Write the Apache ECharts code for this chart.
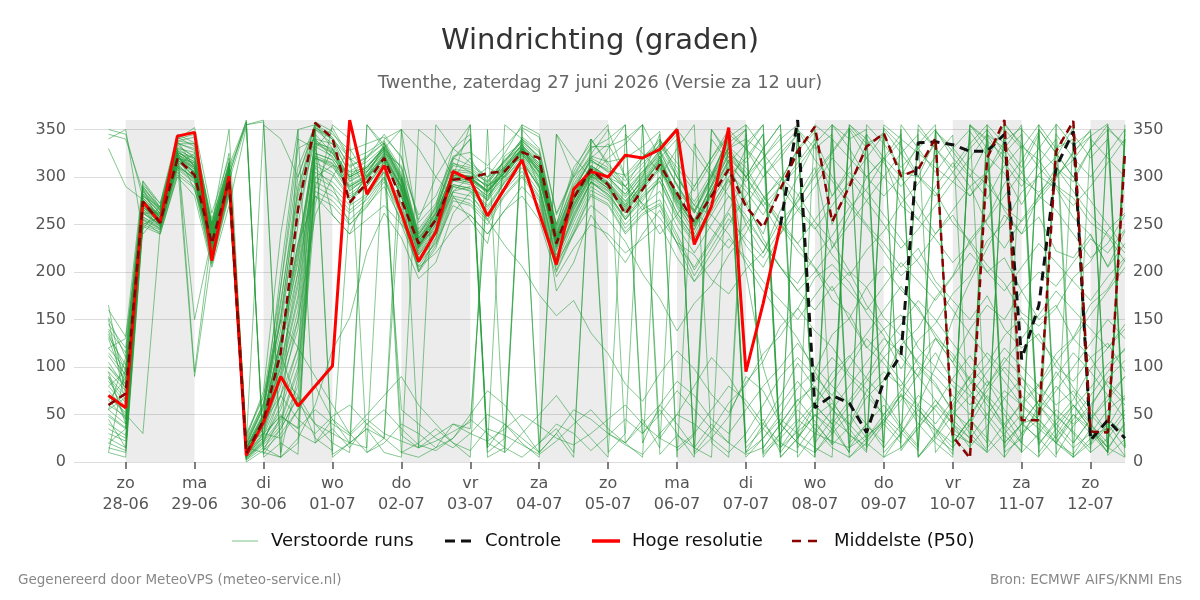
<!DOCTYPE html>
<html>
<head>
<meta charset="utf-8">
<script src="https://cdn.jsdelivr.net/npm/echarts@6/dist/echarts.min.js"></script>
<style>html,body{margin:0;padding:0;background:#fff}#chart{width:1200px;height:600px}</style>
</head>
<body>
<div id="chart"></div>
<script>
// Hours relative to zo 28-06 00:00 (6-hourly steps)
const hours = [-6,0,6,12,18,24,30,36,42,48,54,60,66,72,78,84,90,96,102,108,114,120,126,132,138,144,150,156,162,168,174,180,186,192,198,204,210,216,222,228,234,240,246,252,258,264,270,276,282,288,294,300,306,312,318,324,330,336,342,348];
const dayTicks = [0,24,48,72,96,120,144,168,192,216,240,264,288,312,336];
const dayNames = ['zo','ma','di','wo','do','vr','za','zo','ma','di','wo','do','vr','za','zo'];
const dayDates = ['28-06','29-06','30-06','01-07','02-07','03-07','04-07','05-07','06-07','07-07','08-07','09-07','10-07','11-07','12-07'];
const yTicks = [0,50,100,150,200,250,300,350];
const shadedDays = [0,48,96,144,192,240,288,336];
const legendNames = ['Verstoorde runs','Controle','Hoge resolutie','Middelste (P50)'];

const hiresValues = [70,57,274,252,343,347,212,301,7,42,90,59,80,101,360,282,312,262,211,242,306,297,259,288,318,262,208,287,306,300,323,320,329,350,229,269,352,95,167,249];
const controlStart = 228;
const controlValues = [249,360,57,70,62,31,85,113,336,337,334,327,327,345,108,165,310,348,23,44,25];
const p50Values = [60,72,274,252,319,302,230,297,9,44,115,266,357,341,273,294,320,276,230,255,297,299,304,306,326,320,230,278,308,292,261,287,313,283,252,280,308,269,247,287,327,353,253,290,332,346,301,308,341,27,4,320,360,44,44,327,359,32,31,327];

const m01 = [85,62,270,255,322,308,228,298,12,40, 110,250,350,335,285,300,318,280,228,258, 300,296,310,300,330,315,232,282,305,290, 265,290,318,275,250,285,315,270,240,295, 330,350,250,290,335,345,305,300,340,25, 8,318,355,40,48,330,355,28,35,320];
const m02 = [120,98,282,262,334,320,242,306,18,58, 150,290,345,325,300,310,332,300,238,268, 315,305,295,318,338,322,240,290,318,305, 290,320,340,305,265,300,345,20,45,10, 350,330,345,20,40,60,35,15,350,320, 300,335,10,25,60,95,70,40,15,350];
const m03 = [40,28,258,248,314,296,218,288,4,22, 60,120,330,352,320,285,310,272,218,240, 285,290,278,300,318,288,212,262,295,280, 255,275,300,262,236,270,298,250,220,265, 300,335,280,310,345,15,40,70,55,30, 20,355,335,310,345,20,50,35,15,5];
const m04 = [350,345,278,258,338,342,248,312,358,8, 35,68,25,12,270,305,325,312,236,256, 292,288,276,322,336,318,242,286,318,306, 302,322,332,352,8,25,48,90,75,40, 20,10,355,330,300,320,345,5,30,60, 90,65,40,20,355,330,340,10,25,50];
const m05 = [152,110,288,268,342,332,252,316,24,62, 165,300,352,342,310,322,336,302,232,262, 320,312,300,316,340,326,248,292,322,316, 320,332,348,12,28,350,320,300,330,355, 25,50,30,355,340,315,290,310,335,15, 40,70,50,20,5,345,320,300,325,350];
const m06 = [65,45,266,248,318,305,225,292,8,30, 48,35,55,40,28,45,30,22,15,28, 40,30,22,35,50,38,25,18,30,45, 60,40,25,15,30,55,80,65,40,20, 10,355,340,5,25,50,70,55,35,20, 45,80,110,90,60,35,15,30,55,70];
const m07 = [100,82,292,272,340,352,262,320,28,68, 185,310,355,345,328,335,342,322,252,272, 322,326,312,332,352,342,262,302,332,332, 340,355,8,28,15,5,350,330,300,320, 345,20,45,30,10,350,325,300,280,305, 330,350,15,40,65,50,30,10,350,335];
const m08 = [25,15,255,245,310,295,215,285,3,20, 42,95,290,280,262,276,300,266,206,232, 280,276,256,286,306,280,206,246,286,276, 246,266,276,240,202,232,262,228,205,240, 280,310,225,260,300,320,270,255,290,315, 290,250,225,255,280,265,240,215,230,260];
const m09 = [340,350,240,262,326,286,232,302,358,12, 48,36,300,312,306,316,332,28,15,22, 32,42,292,300,326,300,232,276,312,300, 282,306,322,292,262,302,342,355,8,25, 45,30,22,15,28,42,65,92,130,105, 75,50,28,12,350,325,300,330,355,15];
const m10 = [160,132,296,272,345,336,256,312,15,48, 112,62,40,30,20,35,25,300,240,262, 305,300,285,305,330,310,235,280,300,295, 275,295,315,270,245,285,325,310,280,250, 230,205,180,200,165,140,155,120,100,80, 60,85,55,30,45,20,8,35,15,40];
const m11 = [90,70,270,258,328,312,232,300,10,42, 100,200,335,325,295,305,328,295,228,252, 302,300,282,306,328,305,228,272,306,292, 272,298,322,282,252,292,332,300,320,340, 355,5,340,320,300,280,300,270,240,260, 230,200,215,180,150,165,130,110,125,95];
const m12 = [132,102,282,262,332,322,238,308,20,58, 150,262,340,335,305,310,332,298,232,258, 308,306,288,312,334,312,238,280,312,300, 290,310,335,300,270,260,240,210,180,155, 130,95,65,35,12,355,340,325,310,295, 280,300,265,240,258,222,215,240,205,230];
const m13 = [55,40,262,250,320,305,222,294,6,28, 70,120,305,295,275,290,315,280,215,240, 290,285,265,295,315,290,215,258,295,285, 255,280,295,255,230,260,290,330,355,15, 32,48,62,40,75,95,80,110,130,105, 140,165,150,180,200,185,210,235,220,245];
const m14 = [112,86,278,260,330,326,242,306,15,50, 130,220,338,328,298,308,326,292,226,254, 304,298,286,308,326,306,226,268,302,288, 268,292,318,278,248,282,318,200,100,40, 20,5,355,340,350,10,30,60,100,150, 190,225,260,240,280,310,295,330,350,15];
const m15 = [15,10,250,242,305,290,210,282,2,15, 35,70,280,270,250,268,295,260,200,225, 275,270,250,280,300,275,200,240,280,270, 240,260,270,230,190,220,250,280,310,330, 350,10,30,50,25,45,70,40,20,5, 355,330,345,10,30,55,40,60,85,65];
const m16 = [75,55,268,252,316,90,218,296,10,35, 85,160,320,312,282,296,320,285,222,248, 296,292,275,298,322,298,222,265,300,288, 262,285,308,268,240,275,305,285,260,290, 315,340,300,275,250,230,205,225,190,170, 150,175,140,120,135,100,85,110,80,60];
const m17 = [135,88,275,258,326,150,236,302,16,52, 125,210,332,322,292,302,324,290,224,250, 298,294,280,302,324,300,224,266,298,286, 262,288,310,272,244,280,310,275,235,205, 180,160,185,150,120,140,110,90,115,85, 70,95,120,100,80,60,75,50,30,55];
const m18 = [70,50,30,245,310,300,220,290,8,32, 90,150,315,305,280,292,318,282,220,245, 292,288,270,296,318,292,218,260,295,282, 258,282,300,262,235,268,300,320,345,5, 25,50,35,10,355,335,310,330,350,20, 45,25,5,350,330,355,20,45,70,90];
const m19 = [48,35,262,248,316,300,222,290,6,26, 50,30,20,35,15,40,25,10,20,35, 20,12,35,28,18,8,22,40,55,35, 20,40,60,85,70,45,30,55,80,100, 125,100,80,60,85,110,130,105,90,70, 50,75,100,80,60,40,20,45,65,90];
const m20 = [105,78,272,256,324,310,230,298,12,42, 70,45,30,48,60,40,55,35,18,12, 25,45,30,15,5,20,40,30,12,28, 45,30,50,75,55,35,20,8,15,40, 65,80,55,40,20,5,15,35,60,40, 25,10,30,50,35,20,5,25,45,30];
const m21 = [60,48,264,250,318,306,226,296,9,36, 95,175,322,315,288,298,322,288,230,256, 298,302,290,304,328,308,230,276,304,292, 270,292,316,280,255,290,322,300,270,240, 265,290,320,300,275,250,225,245,270,295, 320,345,330,305,280,300,325,350,10,340];
const m22 = [145,120,290,268,340,345,248,310,20,60, 170,285,358,348,318,326,338,308,242,268, 318,340,5,15,342,328,246,296,324,350, 300,318,338,315,290,320,350,15,35,60, 85,60,40,65,90,120,145,170,150,125, 100,80,105,130,155,180,160,140,120,145];
const m23 = [30,22,258,246,312,298,218,288,5,22, 45,100,295,285,265,280,305,270,210,236, 284,280,262,290,310,284,210,252,290,278, 250,270,285,248,220,250,280,260,230,205, 180,200,225,250,275,300,280,255,235,210, 230,255,280,305,330,310,285,260,240,220];
const m24 = [88,66,272,256,324,314,234,302,360,5, 20,8,352,340,302,312,330,298,234,262, 304,300,286,310,332,312,234,278,310,298, 278,302,326,292,264,298,336,350,10,30, 55,35,15,5,20,45,25,350,330,310, 335,355,20,40,25,5,345,320,340,5];
const m25 = [95,75,276,258,326,316,236,302,14,46, 130,230,280,260,240,255,270,250,205,220, 245,260,240,265,280,255,195,225,250,240, 220,235,250,215,190,210,235,215,190,170, 150,175,200,180,160,185,210,190,170,195, 220,200,180,205,230,210,190,170,195,215];
const m26 = [10,5,248,240,302,288,208,280,0,12, 30,55,270,355,340,10,25,350,330,300, 280,255,230,310,335,290,180,210,260,235, 210,240,265,230,205,235,265,300,330,355, 15,40,20,355,335,5,30,55,35,15, 355,340,5,30,55,80,60,35,10,350];
const m27 = [80,58,268,254,322,310,230,298,11,40, 105,190,325,318,290,300,324,290,226,254, 300,296,284,304,326,304,228,272,304,290, 266,290,312,276,250,286,318,290,270,290, 310,335,355,15,40,20,355,330,305,330, 350,15,40,60,45,25,5,340,320,300];
const m28 = [115,92,284,264,336,328,246,310,18,56, 140,270,348,5,20,355,334,300,236,264, 312,308,294,314,338,320,244,288,316,308, 286,306,328,300,274,304,338,10,25,45, 30,15,5,350,320,300,325,345,10,35, 20,345,315,290,315,340,5,20,40,15];
const m29 = [50,36,262,250,318,304,222,292,7,30, 80,140,312,302,278,290,316,280,218,244, 290,286,268,294,316,290,214,256,294,282, 256,278,296,258,232,264,296,270,300,325, 345,10,35,60,40,15,350,5,25,50, 70,45,20,40,65,90,115,95,70,45];
const m30 = [140,115,286,266,338,335,250,314,22,62, 155,280,350,340,312,320,336,304,240,266, 314,310,296,316,340,20,35,10,340,312, 296,314,334,310,285,315,345,330,310,290, 265,245,270,295,320,345,15,40,65,45, 25,50,75,60,40,20,45,70,95,120];
const m31 = [35,25,256,246,312,298,220,288,5,24, 55,110,300,290,270,282,306,55,40,25, 15,30,50,40,25,10,30,55,45,30, 18,8,30,50,40,25,10,30,60,90, 110,90,70,100,130,110,85,60,40,65, 90,115,95,70,50,75,100,125,150,130];
const m32 = [345,340,285,265,335,335,244,308,355,358, 5,350,355,330,300,310,330,10,5,15, 40,35,300,310,330,310,240,285,310,30, 20,5,340,300,270,300,330,350,5,30, 60,85,110,90,70,50,75,100,80,55, 30,10,355,335,310,290,270,290,315,340];
const m33 = [70,52,266,252,320,308,228,298,10,38, 92,170,320,314,286,298,322,288,228,254, 298,294,280,302,324,302,226,270,302,288, 264,288,310,274,248,282,312,295,320,345, 5,30,55,80,105,130,115,90,65,40, 15,350,325,345,10,35,60,40,20,355];
const m34 = [330,290,276,256,324,312,232,300,12,44, 120,215,336,326,296,306,328,294,230,256, 302,298,284,308,330,306,232,276,306,294, 274,296,320,280,252,290,326,305,280,255, 230,255,280,305,285,260,235,210,185,160, 135,110,85,60,80,105,130,155,180,205];
const m35 = [100,78,274,258,326,316,236,304,14,46, 125,225,336,330,300,310,330,296,232,258, 306,304,290,312,334,314,236,282,312,300, 282,304,328,290,262,296,332,315,345,10, 35,60,85,110,135,160,185,160,135,110, 85,60,35,10,350,325,300,275,250,225];
const m36 = [20,12,252,244,308,294,212,284,3,18, 38,80,285,275,255,272,298,262,202,228, 278,272,254,282,302,278,202,242,282,272, 242,262,272,236,196,226,256,235,215,245, 275,300,325,350,15,40,20,355,330,305, 280,305,330,355,20,40,60,35,10,345];
const m37 = [130,80,288,250,330,95,240,308,20,355, 340,300,355,8,20,15,340,350,245,270, 330,355,10,25,350,330,250,305,340,10, 30,355,320,340,15,40,20,355,330,5, 25,60,40,10,345,320,300,335,355,20, 45,20,350,330,355,25,50,30,10,340];
const m38 = [20,35,290,265,335,330,250,350,15,10, 5,25,60,118,152,221,262,236,193,210, 262,284,255,228,206,176,154,170,136,114, 82,64,93,117,98,71,52,84,106,143, 161,194,208,189,157,133,98,128,146,177, 196,233,251,284,301,288,257,239,206,243];
const m39 = [165,70,295,268,320,315,250,325,5,20, 70,150,260,300,330,300,320,290,200,235, 300,355,15,355,340,320,250,310,335,355, 20,45,15,350,325,300,340,5,25,50, 78,96,134,151,184,206,181,163,131,114, 87,68,36,63,82,114,131,166,182,213];
const m40 = [80,95,245,270,318,300,245,305,8,26, 185,330,340,320,300,320,345,320,255,300, 330,345,20,10,355,345,260,300,330,340, 355,20,60,40,15,350,325,300,275,250, 222,204,171,156,121,104,77,58,26,12, 348,322,304,271,303,321,352,18,37,68];
const m41 = [55,110,270,262,324,298,225,300,10,50, 200,340,330,260,240,280,300,250,230,245, 285,300,275,310,320,295,238,270,300,320, 335,355,25,50,80,110,90,60,35,15, 350,318,296,270,248,222,196,214,240,265, 290,305,338,352,18,44,66,98,120,140];
const m42 = [150,60,250,258,312,325,230,295,15,45, 90,70,40,20,10,355,330,310,260,280, 320,340,15,40,20,5,345,300,320,335, 300,270,240,260,290,320,345,10,40,70, 104,78,57,28,17,352,333,301,284,252, 233,207,188,157,143,162,194,211,244,262];
const m43 = [95,40,280,268,328,320,235,310,25,75, 240,350,20,45,30,10,20,40,30,15, 25,50,75,60,35,10,345,320,300,330, 355,30,55,30,5,340,315,335,355,15, 42,63,94,112,88,67,38,17,348,327, 302,277,312,333,6,28,57,78,103,118];
const m44 = [45,15,275,255,322,305,222,296,355,360, 10,90,290,330,275,300,335,295,235,260, 305,300,292,318,332,318,238,285,320,310, 290,272,257,231,218,192,177,203,221,254, 273,304,327,352,23,41,72,48,33,8, 354,338,322,297,284,302,318,343,356,17];
const m45 = [65,88,272,260,330,318,240,300,10,40, 120,200,310,290,250,270,290,255,210,230, 270,260,240,265,290,270,210,240,270,255, 232,198,172,138,167,186,218,241,278,296, 328,347,18,37,68,86,123,141,173,196, 234,256,293,317,348,8,38,57,88,107];
const m46 = [120,130,262,262,338,310,245,315,30,70, 150,120,90,60,30,50,70,90,60,40, 20,5,350,10,30,50,70,45,25,5, 345,325,305,285,265,245,225,250,275,300, 282,253,232,201,184,152,133,102,83,52, 37,12,357,332,318,291,278,252,238,211];
const m47 = [10,100,255,240,300,280,205,270,352,15, 5,20,355,340,320,305,330,350,15,355, 330,315,300,325,355,10,30,5,340,315, 290,265,300,330,355,20,5,345,15,40, 66,43,18,352,331,347,12,37,58,88, 112,86,67,42,23,356,333,348,13,42];
const m48 = [90,45,268,255,328,312,228,290,20,30, 25,55,80,45,20,35,10,5,350,335, 300,320,290,310,330,305,235,275,310,300, 280,300,325,345,10,33,62,81,114,133, 162,138,121,93,77,48,31,12,348,331, 308,292,268,253,276,298,327,343,7,24];
const m49 = [138,95,280,262,325,320,238,305,15,50, 130,230,320,310,290,300,320,285,225,250, 300,300,285,305,330,310,230,278,308,295, 270,300,345,5,335,305,280,255,230,205, 188,217,238,268,287,318,338,6,28,57, 82,103,133,152,128,107,78,56,31,6];
const m50 = [55,68,270,250,320,310,230,300,14,46, 100,185,325,318,290,302,322,288,226,254, 305,298,285,305,328,308,230,276,304,292, 268,294,320,278,254,292,330,340,325,300, 268,247,218,196,223,243,272,293,322,344, 16,38,67,88,71,48,32,14,353,331];

const members = [m01,m02,m03,m04,m05,m06,m07,m08,m09,m10,m11,m12,m13,m14,m15,m16,m17,m18,m19,m20,m21,m22,m23,m24,m25,m26,m27,m28,m29,m30,m31,m32,m33,m34,m35,m36,m37,m38,m39,m40,m41,m42,m43,m44,m45,m46,m47,m48,m49,m50];

const FONT = 'DejaVu Sans';
const ENS = '#1f9a35';
const chart = echarts.init(document.getElementById('chart'), null, {renderer: 'canvas'});

const series = [];
series.push({
  type: 'line', data: [], silent: true, z: 1,
  markArea: {
    silent: true,
    itemStyle: {color: 'rgba(0,0,0,0.075)'},
    data: shadedDays.map(s => [{xAxis: s}, {xAxis: Math.min(s + 24, 348)}])
  }
});
members.forEach(vals => {
  series.push({
    name: legendNames[0], type: 'line', symbol: 'none', silent: true, z: 2,
    lineStyle: {width: 1, color: ENS, opacity: 0.55},
    data: hours.map((h, i) => [h, vals[i]])
  });
});
series.push({
  name: legendNames[1], type: 'line', symbol: 'none', silent: true, z: 4,
  lineStyle: {width: 3, color: '#111111', type: [9, 6]},
  data: controlValues.map((v, i) => [controlStart + 6 * i, v])
});
series.push({
  name: legendNames[2], type: 'line', symbol: 'none', silent: true, z: 5,
  lineStyle: {width: 3, color: '#ff0000'},
  data: hiresValues.map((v, i) => [hours[i], v])
});
series.push({
  name: legendNames[3], type: 'line', symbol: 'none', silent: true, z: 6,
  lineStyle: {width: 2.5, color: '#8b0000', type: [8, 5]},
  data: p50Values.map((v, i) => [hours[i], v])
});

const yAxisBase = {
  type: 'value', min: 0, max: 360, interval: 50,
  axisLine: {show: false},
  axisTick: {show: false, customValues: yTicks},
  axisLabel: {customValues: yTicks, fontFamily: FONT, fontSize: 16, color: '#555', margin: 8},
};

// Legend drawn as graphic items (line swatch + label)
const LY = 541;
const legendGraphic = [
  {type: 'line', shape: {x1: 232, y1: LY, x2: 258, y2: LY}, style: {stroke: ENS, lineWidth: 1, opacity: 0.6}},
  {type: 'text', x: 271, y: LY, style: {text: legendNames[0], font: '18px "DejaVu Sans"', fill: '#111', textVerticalAlign: 'middle'}},
  {type: 'line', shape: {x1: 445, y1: LY, x2: 471, y2: LY}, style: {stroke: '#111111', lineWidth: 3, lineDash: [10, 6]}},
  {type: 'text', x: 485, y: LY, style: {text: legendNames[1], font: '18px "DejaVu Sans"', fill: '#111', textVerticalAlign: 'middle'}},
  {type: 'line', shape: {x1: 592, y1: LY, x2: 620, y2: LY}, style: {stroke: '#ff0000', lineWidth: 3.5}},
  {type: 'text', x: 632, y: LY, style: {text: legendNames[2], font: '18px "DejaVu Sans"', fill: '#111', textVerticalAlign: 'middle'}},
  {type: 'line', shape: {x1: 792, y1: LY, x2: 817, y2: LY}, style: {stroke: '#8b0000', lineWidth: 2.5, lineDash: [9, 7]}},
  {type: 'text', x: 834, y: LY, style: {text: legendNames[3], font: '18px "DejaVu Sans"', fill: '#111', textVerticalAlign: 'middle'}}
];

chart.setOption({
  animation: false,
  backgroundColor: '#ffffff',
  grid: {left: 74, right: 75, top: 120, bottom: 138, containLabel: false},
  graphic: [
    {type: 'text', left: 'center', top: 27, style: {text: 'Windrichting (graden)', font: '29px "DejaVu Sans"', fill: '#333333'}},
    {type: 'text', left: 'center', top: 74, style: {text: 'Twenthe, zaterdag 27 juni 2026 (Versie za 12 uur)', font: '17.8px "DejaVu Sans"', fill: '#666666'}},
    {type: 'text', left: 18, top: 573, style: {text: 'Gegenereerd door MeteoVPS (meteo-service.nl)', font: '13.5px "DejaVu Sans"', fill: '#888888'}},
    {type: 'text', right: 18, top: 573, style: {text: 'Bron: ECMWF AIFS/KNMI Ens', font: '13.5px "DejaVu Sans"', fill: '#888888'}}
  ].concat(legendGraphic),
  xAxis: {
    type: 'value', min: -18, max: 348,
    splitLine: {show: false},
    axisLine: {show: false},
    axisTick: {show: true, customValues: dayTicks, length: 7, lineStyle: {color: '#555', width: 1.5}},
    axisLabel: {
      customValues: dayTicks,
      fontFamily: FONT, fontSize: 16, color: '#555', lineHeight: 21, margin: 11,
      formatter: v => { const k = dayTicks.indexOf(v); return k < 0 ? '' : dayNames[k] + '\n' + dayDates[k]; }
    }
  },
  yAxis: [
    Object.assign({}, yAxisBase, {position: 'left', splitLine: {show: true, lineStyle: {color: '#dddddd', width: 1}}}),
    Object.assign({}, yAxisBase, {position: 'right', splitLine: {show: false}})
  ],
  series: series
});
</script>
</body>
</html>
